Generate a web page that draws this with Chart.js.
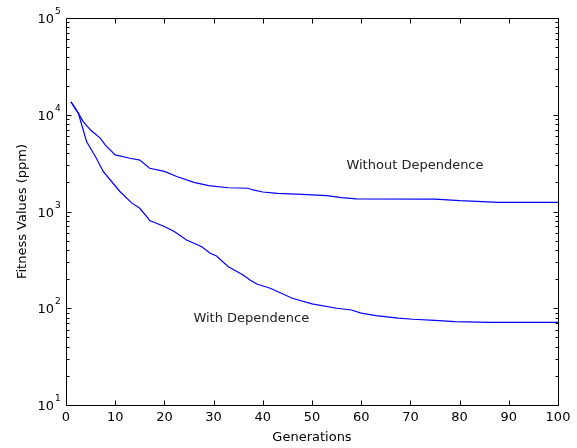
<!DOCTYPE html>
<html>
<head>
<meta charset="utf-8">
<script src="https://cdn.jsdelivr.net/npm/chart.js@4/dist/chart.umd.min.js"></script>
<style>
  html, body { margin: 0; padding: 0; background: #fff; }
  #wrap { width: 577px; height: 448px; }
</style>
</head>
<body>
<div id="wrap"><canvas id="c" width="577" height="448"></canvas></div>
<script>
// ---- data ----
const gensWithout = [1, 2.5, 3.5, 5, 7, 8, 10, 13, 15, 17, 20, 22.5, 26, 29, 33, 37, 38, 40, 43, 48, 53, 56, 59, 75, 80, 88, 100];
const fitnessWithout = [13600, 10400, 8500, 6950, 5700, 4850, 3850, 3550, 3400, 2800, 2600, 2300, 2000, 1850, 1760, 1740, 1670, 1590, 1540, 1500, 1460, 1390, 1350, 1345, 1295, 1245, 1245];

const gensWith = [1, 2.5, 3.5, 4.2, 6, 7.6, 9.3, 11, 13.4, 15, 16.7, 17, 20, 22, 24.5, 27.6, 29.3, 30.6, 33, 36, 37.4, 38.8, 41.5, 46, 50, 55, 58, 60, 63, 67.5, 70.5, 75, 79, 86, 100];
const fitnessWith = [13600, 10400, 6950, 5260, 3680, 2580, 2030, 1600, 1220, 1080, 850, 805, 700, 620, 507, 432, 370, 347, 269, 221, 196, 178, 161, 127, 111, 100, 96, 89, 84, 79, 77, 75, 72.6, 71.6, 71.6];

const xTickValues = [0, 10, 20, 30, 40, 50, 60, 70, 80, 90, 100];
const yDecades = [10, 100, 1000, 10000, 100000];
const yExponents = ['1', '2', '3', '4', '5'];

const seriesLabels = ['Without Dependence', 'With Dependence'];
// annotation anchor points in data units
const annotationX = [57, 25.9];
const annotationY = [2950, 79];

// ---- chart ----
const FONT = 'DejaVu Sans';
const toPts = (xs, ys) => xs.map((g, i) => ({ x: g, y: ys[i] }));

const framePlugin = {
  id: 'frame',
  afterDraw(chart) {
    const { ctx, chartArea: a, scales: { x, y } } = chart;
    ctx.save();
    ctx.strokeStyle = '#000';
    ctx.lineWidth = 1;
    const L = Math.round(a.left) + 0.5, R = Math.round(a.right) + 0.5;
    const T = Math.round(a.top) + 0.5, B = Math.round(a.bottom) + 0.5;
    ctx.beginPath();
    ctx.rect(L, T, R - L, B - T);
    xTickValues.forEach(v => {
      const px = Math.round(x.getPixelForValue(v)) + 0.5;
      ctx.moveTo(px, B); ctx.lineTo(px, B - 5);
      ctx.moveTo(px, T); ctx.lineTo(px, T + 5);
    });
    yDecades.forEach((d, i) => {
      const py = Math.round(y.getPixelForValue(d)) + 0.5;
      ctx.moveTo(L, py); ctx.lineTo(L + 5, py);
      ctx.moveTo(R, py); ctx.lineTo(R - 5, py);
      if (i < yDecades.length - 1) {
        for (let m = 2; m <= 9; m++) {
          const q = Math.round(y.getPixelForValue(d * m)) + 0.5;
          ctx.moveTo(L, q); ctx.lineTo(L + 3, q);
          ctx.moveTo(R, q); ctx.lineTo(R - 3, q);
        }
      }
    });
    ctx.stroke();

    ctx.fillStyle = '#000';
    ctx.textBaseline = 'alphabetic';
    yDecades.forEach((d, i) => {
      const py = y.getPixelForValue(d);
      ctx.font = '13px "' + FONT + '"';
      ctx.textAlign = 'right';
      const baseRight = a.left - 12;
      ctx.fillText('10', baseRight, py + 5);
      ctx.font = '9px "' + FONT + '"';
      ctx.textAlign = 'left';
      ctx.fillText(yExponents[i], baseRight + 1, py - 4);
    });

    ctx.font = '13px "' + FONT + '"';
    ctx.textAlign = 'left';
    ctx.textBaseline = 'middle';
    ctx.fillStyle = '#222';
    seriesLabels.forEach((t, i) => {
      ctx.fillText(t, x.getPixelForValue(annotationX[i]), y.getPixelForValue(annotationY[i]));
    });
    ctx.restore();
  }
};

new Chart(document.getElementById('c'), {
  type: 'line',
  data: {
    datasets: [
      { label: seriesLabels[0], data: toPts(gensWithout, fitnessWithout) },
      { label: seriesLabels[1], data: toPts(gensWith, fitnessWith) }
    ].map(d => Object.assign(d, {
      borderColor: '#0000ff', borderWidth: 1.2, pointRadius: 0, tension: 0, fill: false
    }))
  },
  options: {
    responsive: false,
    animation: false,
    devicePixelRatio: 1,
    layout: { padding: { top: 18, right: 19, left: 0, bottom: 0 } },
    plugins: { legend: { display: false }, tooltip: { enabled: false } },
    scales: {
      x: {
        type: 'linear', min: 0, max: 100,
        afterBuildTicks(s) { s.ticks = xTickValues.map(v => ({ value: v })); },
        afterFit(s) { s.height = 43; },
        grid: { display: false, drawTicks: false, tickLength: 0 },
        border: { display: false },
        ticks: { color: '#000', font: { family: FONT, size: 13 }, padding: 5, maxRotation: 0 },
        title: { display: true, text: 'Generations', color: '#000', font: { family: FONT, size: 13 }, padding: { top: 0, bottom: 3 } }
      },
      y: {
        type: 'logarithmic', min: 10, max: 100000,
        afterFit(s) { s.width = 66; },
        grid: { display: false },
        border: { display: false },
        ticks: { display: false },
        title: { display: true, text: 'Fitness Values (ppm)', color: '#000', font: { family: FONT, size: 13 }, padding: { top: 15, bottom: 0 } }
      }
    }
  },
  plugins: [framePlugin]
});
</script>
</body>
</html>
